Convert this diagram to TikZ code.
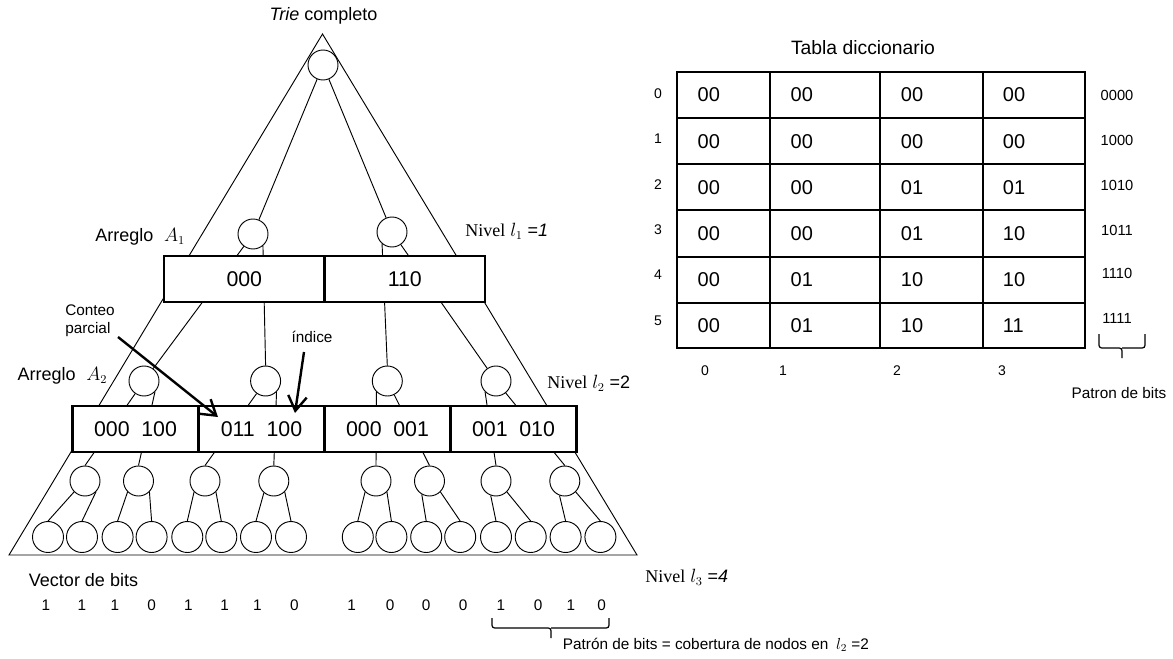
\documentclass[tikz,border=0pt]{standalone}
\usepackage{fontspec}
\setmainfont{Liberation Sans}
\newfontfamily\serifnv{Liberation Serif}
\usetikzlibrary{arrows.meta}
\begin{document}
\begin{tikzpicture}[x=0.75pt,y=-0.75pt,
  nd/.style={circle,draw,fill=white,line width=0.7pt,minimum size=22.5pt,inner sep=0pt},
  lf/.style={nd,minimum size=23.25pt},
  ln/.style={line width=0.7pt},
  brc/.style={line width=0.9pt,rounded corners=2pt},
  arrbox/.style={draw,line width=1.8pt,fill=white,minimum height=34.5pt,inner sep=0pt,font=\fontsize{16}{19}\selectfont},
  lbl/.style={font=\fontsize{13.5}{16}\selectfont,inner sep=0pt},
  sml/.style={font=\fontsize{11.5}{13.8}\selectfont,inner sep=0pt},
  tiny/.style={font=\fontsize{10.5}{12}\selectfont,inner sep=0pt},
  cell/.style={font=\fontsize{15}{18}\selectfont,inner sep=0pt,anchor=west},
  arrw/.style={line width=1.8pt,-{Straight Barb[length=11pt,width=14pt]}},
  tab/.style={line width=1.6pt}
]
\useasboundingbox (0,0) rectangle (1173,659);

% ---- trie nodes
\node[nd] (r0) at (323,65) {};
\node[nd] (a) at (253,234) {};
\node[nd] (b) at (392,232) {};
\foreach \n/\x in {1/144,2/265.6,3/387.3,4/496} \node[nd] (c\n) at (\x,381) {};
\foreach \n/\x in {1/85,2/138.5,3/205,4/273.8,5/376,6/429.5,7/496,8/564.8} \node[nd] (d\n) at (\x,481) {};
\foreach \n/\x in {1/48,2/82,3/117.6,4/151.6,5/187.3,6/221.3,7/256,8/291,9/357.8,10/391.4,11/426.2,12/460.2,13/496,14/530.7,15/565.6,16/600.4}
  \node[lf] (e\n) at (\x,537) {};

% ---- outer triangle
\coordinate (apex) at (322.5,34);
\coordinate (bl) at (9,555);
\coordinate (br) at (637,555);
\draw[ln] (apex) -- (bl) -- (br) -- cycle;

% ---- edges
\draw[ln] (r0) -- (a);
\draw[ln] (r0) -- (b);
\draw[ln] (a) -- (c1);
\draw[ln] (a.-50) -- (c2.north);
\draw[ln] (b.-130) -- (c3.north);
\draw[ln] (b) -- (c4);
\draw[ln] (c1) -- (d1.north);
\draw[ln] (c1.-45) -- (d2.north);
\draw[ln] (c2) -- (d3.north);
\draw[ln] (c2.-45) -- (d4.north);
\draw[ln] (c3.-135) -- (d5.north);
\draw[ln] (c3) -- (d6.north);
\draw[ln] (c4.-135) -- (d7.north);
\draw[ln] (c4) -- (d8.north);
\foreach \k/\la in {1/-135,2/-135,3/-135,4/-130,5/-135,6/-120,7/-110,8/-110}{
  \pgfmathtruncatemacro\i{2*\k-1}
  \pgfmathtruncatemacro\j{2*\k}
  \draw[ln] (d\k.\la) -- (e\i.north);
  \draw[ln] (d\k.-45) -- (e\j.north);
}

% ---- arrays
\node[arrbox,minimum width=120.45pt] (A1a) at (244.3,279) {000};
\node[arrbox,minimum width=120.45pt] (A1b) at (404.8,279) {110};
\node[arrbox,minimum width=94.5pt] (B1) at (135.5,429) {000\hspace{0.55em}100};
\node[arrbox,minimum width=94.5pt] (B2) at (261.5,429) {011\hspace{0.55em}100};
\node[arrbox,minimum width=94.5pt] (B3) at (387.5,429) {000\hspace{0.55em}001};
\node[arrbox,minimum width=94.5pt] (B4) at (513.5,429) {001\hspace{0.55em}010};

% ---- labels
\node[lbl] (trie) at (323.5,16) {\textit{Trie} completo};
\node[lbl,anchor=west] (arr1) at (95,237) {Arreglo\hspace{0.6em}$A_1$};
\node[lbl,anchor=west] (arr2) at (17.3,376) {Arreglo\hspace{0.6em}$A_2$};
\node[lbl,anchor=west] (niv1) at (465,231) {{\serifnv Nivel} $l_1$ =\textit{1}};
\node[lbl,anchor=west] (niv2) at (547,383) {{\serifnv Nivel} $l_2$ =2};
\node[lbl,anchor=west] (niv3) at (645,577) {{\serifnv Nivel} $l_3$ =\textit{4}};
\node[sml,anchor=west,align=left] (conteo) at (65,321) {Conteo\\parcial};
\node[sml] (indice) at (312,337) {índice};

\coordinate (cs) at (118,337);
\coordinate (ce) at (218,417);
\draw[arrw] (cs) -- (ce);
\coordinate (is) at (304,352);
\coordinate (ie) at (295,413);
\draw[arrw] (is) -- (ie);

% ---- bit vector
\node[lbl,anchor=west] (vec) at (28.7,580) {Vector de bits};
\foreach \n/\x/\v in {1/45.9/1,2/82/1,3/114.8/1,4/151.6/0,5/188.5/1,6/224.6/1,7/257.4/1,8/294.3/0,9/351.6/1,10/390.2/0,11/426.2/0,12/463.1/0,13/500.8/1,14/538.1/0,15/570.9/1,16/601.6/0}
  \node[sml] (bit\n) at (\x,605) {\v};
\coordinate (bb1) at (492,618);
\coordinate (bb2) at (609,618);
\coordinate (bbt) at (551,638);
\draw[brc] (bb1) |- (bbt |- 0,628) -- (bbt);
\draw[brc] (bb2) |- (bbt |- 0,628);
\node[sml,anchor=west] (patron) at (562.7,645) {Patrón de bits = cobertura de nodos en\hspace{0.5em}$l_2$ =2};

% ---- dictionary table
\node[lbl,font=\fontsize{14.5}{17}\selectfont] (tabla) at (863,48) {Tabla diccionario};
\draw[tab] (677,72) rectangle (1085,348);
\foreach \x in {770.2,880.1,983.1} \draw[tab] (\x,72) -- (\x,348);
\foreach \y in {118,164,210,257,303} \draw[tab] (677,\y) -- (1085,\y);
\foreach \r/\va/\vb/\vc/\vd in {0/00/00/00/00,1/00/00/00/00,2/00/00/01/01,3/00/00/01/10,4/00/01/10/10,5/00/01/10/11}{
  \node[cell] (t\r a) at (697.4,95+46.2*\r) {\va};
  \node[cell] (t\r b) at (790.4,95+46.2*\r) {\vb};
  \node[cell] (t\r c) at (900.7,95+46.2*\r) {\vc};
  \node[cell] (t\r d) at (1002.6,95+46.2*\r) {\vd};
}
\foreach \r/\y in {0/93.3,1/138.3,2/185,3/229.3,4/275,5/320.7}
  \node[tiny] (rl\r) at (658,\y) {\r};
\foreach \r/\y/\p in {0/95/0000,1/140/1000,2/185/1010,3/230/1011,4/273/1110,5/318/1111}
  \node[tiny,font=\fontsize{11}{13}\selectfont] (pl\r) at (1117,\y) {\p};
\foreach \c/\x in {0/705,1/783,2/897,3/1002}
  \node[tiny] (cl\c) at (\x,371) {\c};
\coordinate (rb1) at (1099,334);
\coordinate (rb2) at (1145,334);
\coordinate (rbt) at (1122,358);
\draw[brc] (rb1) |- (rbt |- 0,348) -- (rbt);
\draw[brc] (rb2) |- (rbt |- 0,348);
\node[sml] (pbits) at (1119,393) {Patron de bits};
\end{tikzpicture}
\end{document}
